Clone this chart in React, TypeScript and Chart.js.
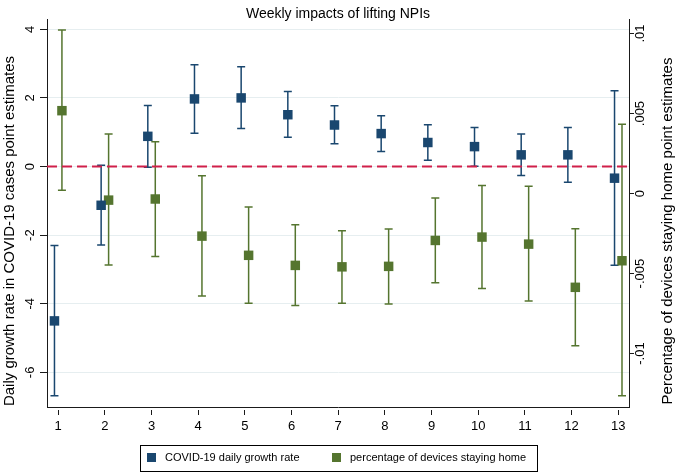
import React, { useEffect, useRef } from "react";
import { Chart, registerables } from "chart.js";

Chart.register(...registerables);

// ---- data ----
const weeks = [1, 2, 3, 4, 5, 6, 7, 8, 9, 10, 11, 12, 13];
const growthEst = [-4.5, -1.13, 0.88, 1.97, 2.0, 1.51, 1.21, 0.96, 0.7, 0.58, 0.34, 0.34, -0.34];
const growthLow = [-6.68, -2.29, -0.02, 0.97, 1.11, 0.85, 0.66, 0.44, 0.18, 0.01, -0.26, -0.46, -2.88];
const growthHigh = [-2.3, 0.04, 1.78, 2.97, 2.91, 2.19, 1.77, 1.48, 1.22, 1.14, 0.95, 1.14, 2.21];
const homeEst = [0.00518, -0.00041, -0.00034, -0.00266, -0.00386, -0.00449, -0.00458, -0.00455, -0.00293, -0.00272, -0.00316, -0.00586, -0.0042];
const homeLow = [0.0002, -0.00447, -0.00393, -0.00641, -0.00686, -0.00699, -0.00686, -0.00691, -0.00558, -0.00593, -0.00672, -0.00951, -0.01264];
const homeHigh = [0.01022, 0.00372, 0.00324, 0.00111, -0.00084, -0.00195, -0.00233, -0.00222, -0.00028, 0.00051, 0.00045, -0.0022, 0.00433];
const leftTicks = [-6, -4, -2, 0, 2, 4];
const leftTickLabels = ["-6", "-4", "-2", "0", "2", "4"];
const rightTicks = [-0.01, -0.005, 0, 0.005, 0.01];
const rightTickLabels = ["-.01", "-.005", "0", ".005", ".01"];
const xTickLabels = ["1", "2", "3", "4", "5", "6", "7", "8", "9", "10", "11", "12", "13"];

const titleText = "Weekly impacts of lifting NPIs";
const leftTitle = "Daily growth rate in COVID-19 cases point estimates";
const rightTitle = "Percentage of devices staying home point estimates";
const growthLabel = "COVID-19 daily growth rate";
const homeLabel = "percentage of devices staying home";

// ---- styles ----
const FONT = '"Liberation Sans", Arial, Helvetica, sans-serif';
const BLUE = "#1a476f";
const GREEN = "#55752f";
const RED = "#d0204a";
const GRID = "#e6eef0";
const AXIS = "#1a1a1a";
const OFFSET = 0.08;
const X_MIN = 0.76;
const X_MAX = 13.23;
const Y_MIN = -7.01;
const Y_MAX = 4.3;
const Y2_MIN = -0.01334;
const Y2_MAX = 0.01091;

const errorBars = {
  id: "errorBars",
  beforeDatasetsDraw(chart: any) {
    const ctx = chart.ctx;
    chart.data.datasets.forEach((ds: any) => {
      if (!ds.lows) return;
      const xs = chart.scales.x;
      const ys = chart.scales[ds.yAxisID];
      ctx.save();
      ctx.strokeStyle = ds.borderColor;
      ctx.lineWidth = 1.5;
      ds.data.forEach((p: any, j: number) => {
        const x = xs.getPixelForValue(p.x);
        const y1 = ys.getPixelForValue(ds.lows[j]);
        const y2 = ys.getPixelForValue(ds.highs[j]);
        ctx.beginPath();
        ctx.moveTo(x, y1);
        ctx.lineTo(x, y2);
        ctx.moveTo(x - 4, y1);
        ctx.lineTo(x + 4, y1);
        ctx.moveTo(x - 4, y2);
        ctx.lineTo(x + 4, y2);
        ctx.stroke();
      });
      ctx.restore();
    });
  },
};

const texts = {
  id: "texts",
  afterDraw(chart: any) {
    const ctx = chart.ctx;
    const area = chart.chartArea;
    ctx.save();
    ctx.fillStyle = "#000";
    // title
    ctx.font = `14px ${FONT}`;
    ctx.textAlign = "center";
    ctx.textBaseline = "alphabetic";
    ctx.fillText(titleText, (area.left + area.right) / 2, 18);
    // axis titles
    const cy = 231;
    ctx.font = `15px ${FONT}`;
    ctx.textBaseline = "middle";
    ctx.save();
    ctx.translate(10, cy);
    ctx.rotate(-Math.PI / 2);
    ctx.fillText(leftTitle, 0, 0);
    ctx.restore();
    ctx.save();
    ctx.translate(668, cy);
    ctx.rotate(-Math.PI / 2);
    ctx.fillText(rightTitle, 0, 0);
    ctx.restore();
    // legend
    const items = chart.data.datasets.filter((d: any) => d.legendItem);
    const boxW = 397;
    const boxH = 26;
    const bx = Math.round((chart.width - boxW) / 2);
    const by = chart.height - boxH - 1;
    ctx.strokeStyle = "#000";
    ctx.lineWidth = 1;
    ctx.strokeRect(bx + 0.5, by + 0.5, boxW, boxH);
    const colX = [bx + 7, bx + 192];
    ctx.font = `11px ${FONT}`;
    ctx.textAlign = "left";
    ctx.textBaseline = "middle";
    items.forEach((d: any, k: number) => {
      ctx.fillStyle = d.backgroundColor;
      ctx.fillRect(colX[k], by + 8, 9, 9);
      ctx.fillStyle = "#000";
      ctx.fillText(d.label, colX[k] + 18, by + 13);
    });
    ctx.restore();
  },
};

export default function App() {
  const ref = useRef<HTMLCanvasElement>(null);
  useEffect(() => {
    const canvas = ref.current!;
    const chart = new Chart(canvas, {
      type: "scatter",
      data: {
        datasets: [
          {
            label: growthLabel,
            data: weeks.map((w, i) => ({ x: w - OFFSET, y: growthEst[i] })),
            lows: growthLow,
            highs: growthHigh,
            yAxisID: "y",
            backgroundColor: BLUE,
            borderColor: BLUE,
            pointStyle: "rect",
            pointRadius: 6.7,
            borderWidth: 0,
            legendItem: true,
            order: 1,
          } as any,
          {
            label: homeLabel,
            data: weeks.map((w, i) => ({ x: w + OFFSET, y: homeEst[i] })),
            lows: homeLow,
            highs: homeHigh,
            yAxisID: "y2",
            backgroundColor: GREEN,
            borderColor: GREEN,
            pointStyle: "rect",
            pointRadius: 6.7,
            borderWidth: 0,
            legendItem: true,
            order: 2,
          } as any,
          {
            type: "line",
            label: "zero",
            data: [
              { x: X_MIN, y: 0 },
              { x: X_MAX, y: 0 },
            ],
            yAxisID: "y",
            borderColor: RED,
            borderDash: [10, 5],
            borderWidth: 1.8,
            pointRadius: 0,
            order: 3,
          } as any,
        ],
      },
      options: {
        animation: false,
        responsive: false,
        events: [],
        layout: { padding: { left: 0, right: 0, top: 19, bottom: 35 } },
        plugins: { legend: { display: false }, tooltip: { enabled: false }, title: { display: false } },
        scales: {
          x: {
            type: "linear",
            min: X_MIN,
            max: X_MAX,
            afterBuildTicks: (s: any) => {
              s.ticks = weeks.map((v) => ({ value: v }));
            },
            afterFit: (s: any) => {
              s.height = 30;
            },
            ticks: {
              autoSkip: false,
              maxRotation: 0,
              minRotation: 0,
              padding: 4,
              color: "#000",
              font: { family: FONT, size: 13 },
              callback: (v: any) => xTickLabels[weeks.indexOf(Number(v))] ?? "",
            },
            grid: {
              drawOnChartArea: false,
              tickLength: 8,
              tickColor: AXIS,
              tickWidth: 1,
              tickBorderDash: [0, 2, 5, 50],
            },
            border: { color: AXIS, width: 1 },
          },
          y: {
            type: "linear",
            position: "left",
            min: Y_MIN,
            max: Y_MAX,
            afterBuildTicks: (s: any) => {
              s.ticks = leftTicks.map((v) => ({ value: v }));
            },
            afterFit: (s: any) => {
              s.width = 47;
            },
            ticks: {
              autoSkip: false,
              minRotation: 90,
              maxRotation: 90,
              crossAlign: "center",
              padding: 4,
              color: "#000",
              font: { family: FONT, size: 13 },
              callback: (v: any) => leftTickLabels[leftTicks.indexOf(Number(v))] ?? "",
            },
            grid: { color: GRID, lineWidth: 1, tickLength: 7, tickColor: AXIS },
            border: { color: AXIS, width: 1 },
          },
          y2: {
            type: "linear",
            position: "right",
            min: Y2_MIN,
            max: Y2_MAX,
            afterBuildTicks: (s: any) => {
              s.ticks = rightTicks.map((v) => ({ value: v }));
            },
            afterFit: (s: any) => {
              s.width = 48;
            },
            ticks: {
              autoSkip: false,
              minRotation: 90,
              maxRotation: 90,
              crossAlign: "center",
              padding: -8,
              color: "#000",
              font: { family: FONT, size: 13 },
              callback: (v: any) => {
                const k = rightTicks.findIndex((t) => Math.abs(t - Number(v)) < 1e-9);
                return k >= 0 ? rightTickLabels[k] : "";
              },
            },
            grid: { drawOnChartArea: false, tickLength: 5, tickColor: AXIS },
            border: { color: AXIS, width: 1 },
          },
        },
      },
      plugins: [errorBars, texts],
    } as any);
    return () => chart.destroy();
  }, []);
  return (
    <div style={{ position: "absolute", left: 0, top: 0, width: 677, height: 472, background: "#fff" }}>
      <canvas ref={ref} width={677} height={472} style={{ display: "block" }} />
    </div>
  );
}
